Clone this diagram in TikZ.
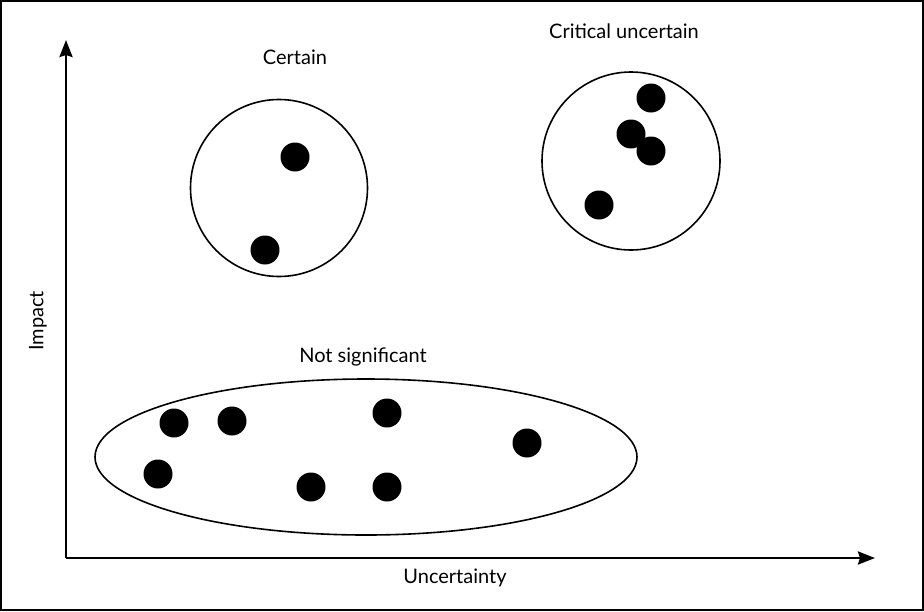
\documentclass[tikz,border=0pt]{standalone}
\usepackage{fontspec}
\setmainfont{Lato}
\usetikzlibrary{arrows.meta,shapes.geometric}
\begin{document}
\begin{tikzpicture}[x=1pt,y=-1pt,
  dot/.style={circle,fill=black,inner sep=0pt,minimum size=29pt},
  group/.style={draw,line width=1.6pt,inner sep=0pt},
  lbl/.style={font=\fontsize{20}{24}\selectfont,inner sep=0pt,anchor=base},
  axis/.style={line width=2.6pt,-{Stealth[length=17pt,width=13pt,inset=2pt]}}]
\useasboundingbox (0,0) rectangle (924,611);
\draw[line width=1.2pt] (1,1) rectangle (923,610);
% axes
\coordinate (o) at (66,558);
\coordinate (ytip) at (66,40);
\coordinate (xtip) at (875,558);
\draw[axis] (o) -- (ytip);
\draw[axis] (o) -- (xtip);
\node[lbl] (xl) at (455,583) {Uncertainty};
\node[font=\fontsize{20}{24}\selectfont,inner sep=0pt,rotate=90] (yl) at (38,321) {Impact};
% groups
\node[group,circle,minimum size=177pt] (certain) at (279,188) {};
\node[group,circle,minimum size=178pt] (critical) at (631,161) {};
\node[group,ellipse,minimum width=542pt,minimum height=156pt] (notsig) at (366,457) {};
\node[lbl] (lc) at (295,64) {Certain};
\node[lbl] (lcu) at (624,38) {Critical uncertain};
\node[lbl] (ln) at (363,362) {Not significant};
% dots
\node[dot] (c1) at (295,157) {};
\node[dot] (c2) at (265,250) {};
\node[dot] (u1) at (651,98) {};
\node[dot] (u2) at (631,134) {};
\node[dot] (u3) at (651,151) {};
\node[dot] (u4) at (599,205) {};
\node[dot] (n1) at (174,423) {};
\node[dot] (n2) at (232,421) {};
\node[dot] (n3) at (387,413) {};
\node[dot] (n4) at (158,474) {};
\node[dot] (n5) at (311,487) {};
\node[dot] (n6) at (387,487) {};
\node[dot] (n7) at (527,443) {};
\end{tikzpicture}
\end{document}
